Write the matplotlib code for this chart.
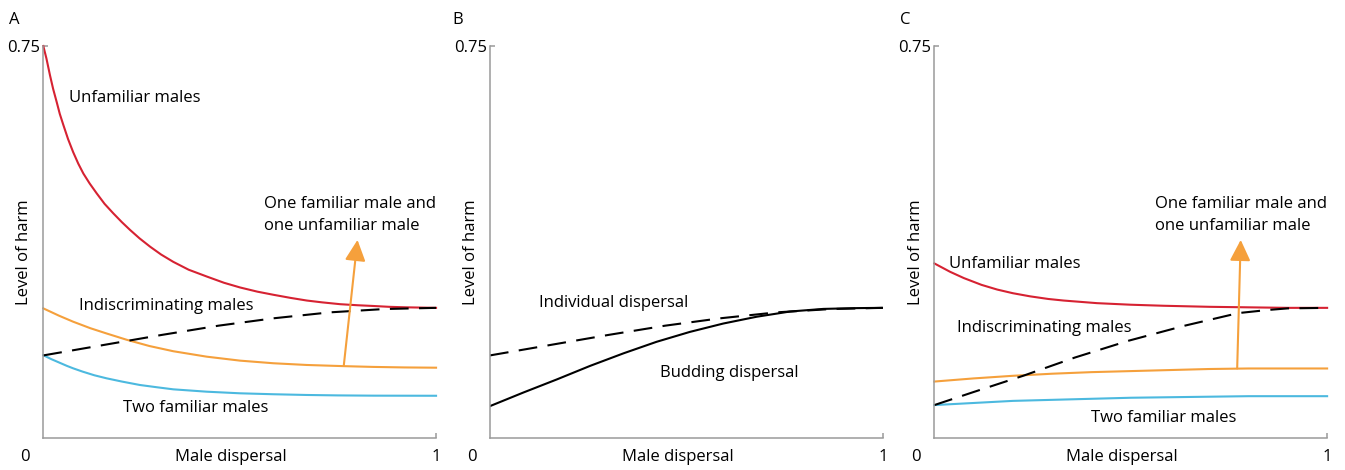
import matplotlib
matplotlib.use("Agg")
import matplotlib.pyplot as plt

# ---------------------------------------------------------------------------
# Data (x = male dispersal, y = level of harm)
# ---------------------------------------------------------------------------

# Panel A
A_UNFAM_X = [0, 0.008, 0.017, 0.025, 0.034, 0.042, 0.051, 0.063, 0.076, 0.089, 0.102,
             0.118, 0.136, 0.156, 0.178, 0.2, 0.221, 0.245, 0.272, 0.3, 0.331, 0.37,
             0.416, 0.46, 0.501, 0.545, 0.586, 0.63, 0.671, 0.71, 0.756, 0.8, 0.84,
             0.88, 0.925, 1.0]
A_UNFAM_Y = [0.75, 0.726, 0.694, 0.668, 0.643, 0.620, 0.599, 0.572, 0.547, 0.525, 0.506,
             0.487, 0.468, 0.448, 0.430, 0.413, 0.398, 0.382, 0.366, 0.351, 0.337, 0.322,
             0.309, 0.297, 0.288, 0.280, 0.274, 0.268, 0.263, 0.2595, 0.256, 0.254, 0.2526,
             0.251, 0.250, 0.249]

A_INDISC_X = [0, 0.02, 0.04, 0.076, 0.12, 0.161, 0.212, 0.27, 0.331, 0.416, 0.501, 0.586,
              0.671, 0.764, 0.84, 0.92, 1.0]
A_INDISC_Y = [0.248, 0.241, 0.234, 0.2225, 0.210, 0.200, 0.188, 0.176, 0.166, 0.1556,
              0.148, 0.143, 0.1397, 0.1375, 0.136, 0.135, 0.1345]

A_TWOFAM_X = [0, 0.02, 0.04, 0.06, 0.076, 0.1, 0.13, 0.161, 0.2, 0.246, 0.29, 0.331,
              0.416, 0.501, 0.586, 0.671, 0.75, 0.84, 1.0]
A_TWOFAM_Y = [0.1585, 0.151, 0.1445, 0.138, 0.1333, 0.127, 0.120, 0.1142, 0.108, 0.1014,
              0.097, 0.0931, 0.0886, 0.0855, 0.0837, 0.0823, 0.0815, 0.0810, 0.0808]

# dashed line (one familiar + one unfamiliar); same curve in A and B
MIXED_X = [0, 0.1, 0.2, 0.3, 0.446, 0.586, 0.73, 0.87, 1.0]
MIXED_Y = [0.158, 0.171, 0.184, 0.197, 0.2149, 0.229, 0.2404, 0.2468, 0.249]

# Panel B
B_BUDDING_X = [0, 0.085, 0.17, 0.255, 0.34, 0.424, 0.509, 0.594, 0.679, 0.764, 0.849,
               0.934, 1.0]
B_BUDDING_Y = [0.061, 0.087, 0.112, 0.138, 0.162, 0.184, 0.203, 0.219, 0.232, 0.242,
               0.247, 0.2485, 0.249]

# Panel C
C_UNFAM_X = [0, 0.02, 0.04, 0.075, 0.12, 0.16, 0.2, 0.244, 0.29, 0.329, 0.414, 0.5,
             0.584, 0.7, 0.8, 0.9, 1.0]
C_UNFAM_Y = [0.334, 0.326, 0.318, 0.306, 0.293, 0.284, 0.277, 0.271, 0.266, 0.263,
             0.258, 0.255, 0.253, 0.251, 0.250, 0.249, 0.249]

C_INDISC_X = [0, 0.1, 0.2, 0.3, 0.4, 0.5, 0.6, 0.7, 0.8, 0.9, 1.0]
C_INDISC_Y = [0.108, 0.114, 0.119, 0.123, 0.126, 0.128, 0.130, 0.132, 0.133, 0.133, 0.133]

C_TWOFAM_X = [0, 0.1, 0.2, 0.3, 0.4, 0.5, 0.6, 0.7, 0.8, 0.9, 1.0]
C_TWOFAM_Y = [0.063, 0.067, 0.071, 0.073, 0.075, 0.077, 0.078, 0.079, 0.080, 0.080, 0.080]

C_MIXED_X = [0, 0.1, 0.226, 0.358, 0.494, 0.638, 0.774, 0.85, 0.9, 1.0]
C_MIXED_Y = [0.063, 0.088, 0.119, 0.154, 0.186, 0.215, 0.239, 0.245, 0.248, 0.249]

# orange arrows: (x_start, y_start, x_tip, y_tip)
A_ARROW = (0.765, 0.138, 0.80, 0.379)
C_ARROW = (0.771, 0.133, 0.78, 0.379)

PANEL_LETTERS = ["A", "B", "C"]
Y_MAX = 0.75

RED = "#d62232"
ORANGE = "#f5a03c"
BLUE = "#4cb9df"
AXIS_GRAY = "#9a9a9a"

FONT = ["Open Sans", "DejaVu Sans"]
FS = 12

plt.rcParams["font.family"] = FONT


def style_axes(ax):
    ax.set_xlim(0, 1)
    ax.set_ylim(0, Y_MAX)
    for side in ("top", "right"):
        ax.spines[side].set_visible(False)
    for side in ("left", "bottom"):
        ax.spines[side].set_color(AXIS_GRAY)
        ax.spines[side].set_linewidth(1.1)
    ax.set_xticks([1])
    ax.set_xticklabels(["1"], fontsize=FS)
    ax.set_yticks([Y_MAX])
    ax.set_yticklabels(["0.75"], fontsize=FS)
    ax.tick_params(axis="x", direction="in", length=3.5, width=1.1, color=AXIS_GRAY, pad=8)
    ax.tick_params(axis="y", direction="in", length=3.5, width=1.1, color=AXIS_GRAY, pad=2)
    ax.annotate("0", xy=(0, 0), xycoords="data", xytext=(-13, -14),
                textcoords="offset points", ha="center", va="center", fontsize=FS,
                annotation_clip=False)
    ax.set_xlabel("Male dispersal", fontsize=FS)
    ax.xaxis.label.set_va("center")
    ax.xaxis.set_label_coords(0.478, -0.049)
    ax.set_ylabel("Level of harm", fontsize=FS)
    ax.yaxis.label.set_va("center")
    ax.yaxis.set_label_coords(-0.048, 0.473)


def add_arrow(ax, arrow):
    x0, y0, x1, y1 = arrow
    ax.annotate("", xy=(x1, y1), xytext=(x0, y0),
                arrowprops=dict(arrowstyle="-|>,head_length=0.85,head_width=0.42",
                                color=ORANGE, lw=1.5, mutation_scale=15,
                                shrinkA=0, shrinkB=0))


def label(ax, x, y, s):
    ax.text(x, y, s, fontsize=FS, ha="left", va="baseline")


fig = plt.figure(figsize=(13.45, 4.70), dpi=100)
lefts = [0.0322, 0.3643, 0.6947]
axes = [fig.add_axes([l, 0.0681, 0.292, 0.834]) for l in lefts]
for ax in axes:
    style_axes(ax)

lw = 1.5
dash = (9, 5)

# Panel A
ax = axes[0]
ax.plot(A_UNFAM_X, A_UNFAM_Y, color=RED, lw=lw, clip_on=False)
ax.plot(A_INDISC_X, A_INDISC_Y, color=ORANGE, lw=lw, clip_on=False)
ax.plot(A_TWOFAM_X, A_TWOFAM_Y, color=BLUE, lw=lw, clip_on=False)
ax.plot(MIXED_X, MIXED_Y, color="black", lw=lw, dashes=dash)
add_arrow(ax, A_ARROW)
label(ax, 0.066, 0.643, "Unfamiliar males")
label(ax, 0.091, 0.245, "Indiscriminating males")
label(ax, 0.204, 0.050, "Two familiar males")
label(ax, 0.562, 0.441, "One familiar male and")
label(ax, 0.562, 0.398, "one unfamiliar male")

# Panel B
ax = axes[1]
ax.plot(MIXED_X, MIXED_Y, color="black", lw=lw, dashes=dash)
ax.plot(B_BUDDING_X, B_BUDDING_Y, color="black", lw=lw)
label(ax, 0.125, 0.251, "Individual dispersal")
label(ax, 0.433, 0.116, "Budding dispersal")

# Panel C
ax = axes[2]
ax.plot(C_UNFAM_X, C_UNFAM_Y, color=RED, lw=lw, clip_on=False)
ax.plot(C_INDISC_X, C_INDISC_Y, color=ORANGE, lw=lw, clip_on=False)
ax.plot(C_TWOFAM_X, C_TWOFAM_Y, color=BLUE, lw=lw, clip_on=False)
ax.plot(C_MIXED_X, C_MIXED_Y, color="black", lw=lw, dashes=dash)
add_arrow(ax, C_ARROW)
label(ax, 0.036, 0.325, "Unfamiliar males")
label(ax, 0.057, 0.202, "Indiscriminating males")
label(ax, 0.398, 0.031, "Two familiar males")
label(ax, 0.562, 0.441, "One familiar male and")
label(ax, 0.562, 0.398, "one unfamiliar male")

for letter, x in zip(PANEL_LETTERS, [14, 458, 905]):
    fig.text(x / 1345, 1 - 20 / 470, letter, fontsize=FS, ha="center", va="center")

fig.savefig("out.png", dpi=100)
